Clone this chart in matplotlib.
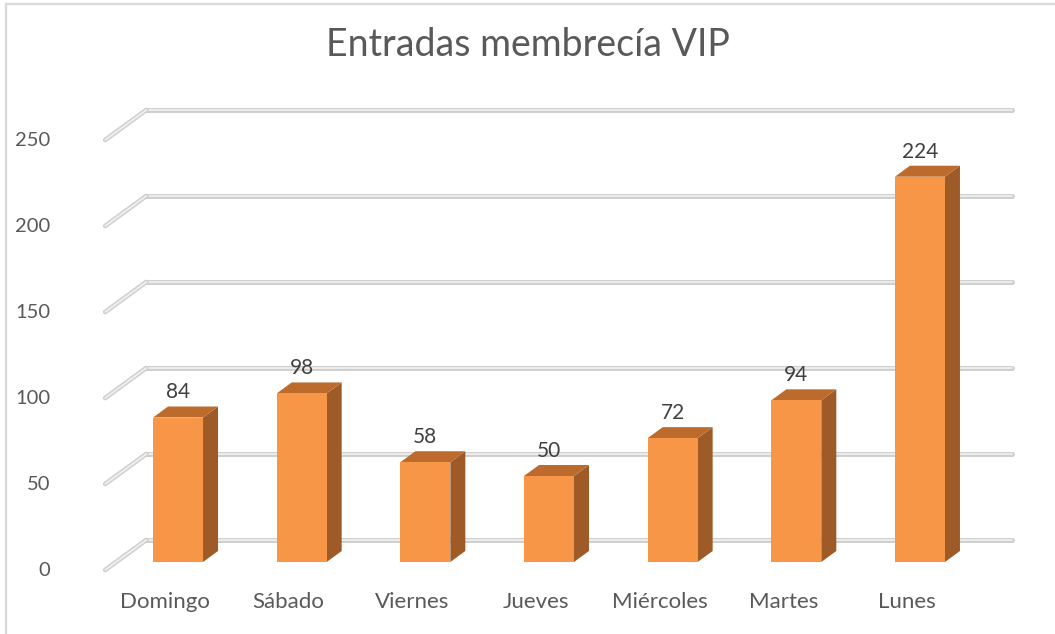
import matplotlib
matplotlib.use("Agg")
import matplotlib.pyplot as plt
from matplotlib.patches import Polygon
from matplotlib.transforms import offset_copy
import matplotlib.lines as mlines

# ---- data ----
categories = ["Domingo", "Sábado", "Viernes", "Jueves", "Miércoles", "Martes", "Lunes"]
values = [84, 98, 58, 50, 72, 94, 224]
y_ticks = [0, 50, 100, 150, 200, 250]
title = "Entradas membrecía VIP"

# ---- style ----
FRONT = "#F79646"
SIDE = "#9E5B27"
TOP = "#BC6B2D"
TXT = "#595959"
FONT = ["Lato", "DejaVu Sans"]

W, H, DPI = 1055, 634, 100
fig = plt.figure(figsize=(W / DPI, H / DPI), dpi=DPI)
fig.patch.set_facecolor("white")

# axes for the bar front plane (pixel-based placement)
ax_left, ax_right = 116.2, 981.8
ax_bottom_px = 72
ax_h_px = 430
ax = fig.add_axes([ax_left / W, ax_bottom_px / H, (ax_right - ax_left) / W, ax_h_px / H])
ax.set_xlim(-0.5, len(categories) - 0.5)
ax.set_ylim(0, 250)
ax.axis("off")

px_x = (ax_right - ax_left) / len(categories)  # px per x unit
px_y = ax_h_px / 250.0  # px per y unit

# back plane offset (pixels) and front axis offset
BACK_DX, BACK_DY = 30, 22
FRONT_DX, FRONT_DY = -11, -8

back_tr = offset_copy(ax.transData, fig=fig, x=BACK_DX, y=BACK_DY, units="dots")
front_tr = offset_copy(ax.transData, fig=fig, x=FRONT_DX, y=FRONT_DY, units="dots")

x0, x1 = -0.5, len(categories) - 0.5
for t in y_ticks:
    # back gridline (shaded double line)
    ax.plot([x0, x1], [t, t], transform=back_tr, color="#cfcfcf", lw=3.6,
            solid_capstyle="round", clip_on=False, zorder=1)
    ax.plot([x0, x1], [t, t], transform=back_tr, color="#efefef", lw=1.3,
            solid_capstyle="round", clip_on=False, zorder=1.1)
    # diagonal side-wall line from front axis to back wall
    p_front = front_tr.transform((x0, t))
    p_back = back_tr.transform((x0, t))
    ln1 = mlines.Line2D([p_front[0], p_back[0]], [p_front[1], p_back[1]],
                        transform=None, color="#cfcfcf", lw=3.4,
                        solid_capstyle="round", zorder=1)
    ln2 = mlines.Line2D([p_front[0], p_back[0]], [p_front[1], p_back[1]],
                        transform=None, color="#f2f2f2", lw=1.2,
                        solid_capstyle="round", zorder=1.1)
    fig.add_artist(ln1)
    fig.add_artist(ln2)
    # tick label on the front axis
    ax.text(x0, t, str(t), transform=offset_copy(ax.transData, fig=fig, x=-66, y=FRONT_DY - 1, units="dots"),
            ha="right", va="center", fontsize=14.5, color=TXT, family=FONT)

# bars
bw = 50 / px_x
ddx = 15 / px_x
ddy = 11 / px_y
xs = list(range(len(categories)))
ax.bar(xs, values, width=bw, color=FRONT, zorder=3, edgecolor="none")
for x, v in zip(xs, values):
    r = x + bw / 2
    l = x - bw / 2
    side = Polygon([(r, 0), (r + ddx, ddy), (r + ddx, v + ddy), (r, v)],
                   closed=True, facecolor=SIDE, edgecolor="none", zorder=2.9)
    top = Polygon([(l, v), (l + ddx, v + ddy), (r + ddx, v + ddy), (r, v)],
                  closed=True, facecolor=TOP, edgecolor="none", zorder=2.9)
    ax.add_patch(side)
    ax.add_patch(top)
    ax.annotate(str(v), (x, v), xytext=(0, 13.7), textcoords="offset points",
                ha="center", va="baseline", fontsize=15, color="#404040",
                family=FONT, annotation_clip=False, zorder=4)

# category labels
for x, c in zip(xs, categories):
    ax.text(x, 0, c, transform=offset_copy(ax.transData, fig=fig, x=-13, y=-40, units="dots"),
            ha="center", va="center", fontsize=16, color=TXT, family=FONT)

# title
fig.text(528 / W, 1 - 45 / H, title, ha="center", va="center",
         fontsize=27, color=TXT, family=FONT)

# chart border (left and top visible)
fig.add_artist(mlines.Line2D([5.5 / W, 5.5 / W], [0, 1 - 3.5 / H], color="#d9d9d9", lw=1.6))
fig.add_artist(mlines.Line2D([5.5 / W, 1], [1 - 3.5 / H, 1 - 3.5 / H], color="#d9d9d9", lw=1.6))

fig.savefig("out.png", dpi=DPI)
